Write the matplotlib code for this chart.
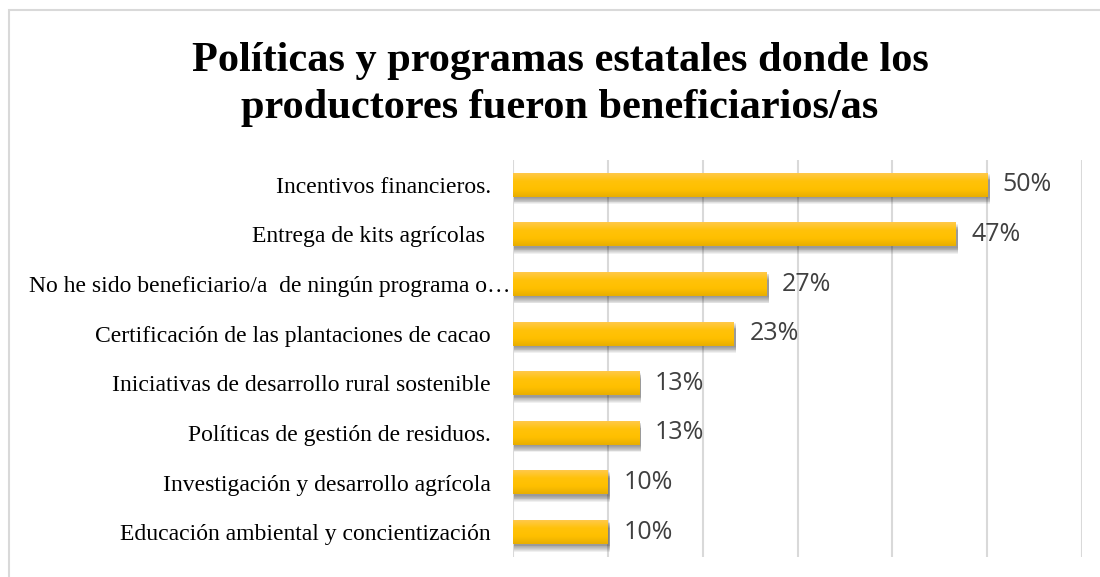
import numpy as np
import matplotlib
matplotlib.use('Agg')
import matplotlib.pyplot as plt
import matplotlib.transforms as mtransforms
from matplotlib.colors import LinearSegmentedColormap
from matplotlib.patches import Rectangle

# Data (shares of producers, n=30)
categories = [
    "Incentivos financieros.",
    "Entrega de kits agrícolas ",
    "No he sido beneficiario/a  de ningún programa o…",
    "Certificación de las plantaciones de cacao",
    "Iniciativas de desarrollo rural sostenible",
    "Políticas de gestión de residuos.",
    "Investigación y desarrollo agrícola",
    "Educación ambiental y concientización",
]
values = [50.0, 46.7, 26.7, 23.3, 13.3, 13.3, 10.0, 10.0]
value_labels = ["50%", "47%", "27%", "23%", "13%", "13%", "10%", "10%"]
xticks = [0, 10, 20, 30, 40, 50, 60]

W, H = 1100, 577
fig = plt.figure(figsize=(W / 100, H / 100), dpi=100)
ax = fig.add_axes([513 / W, 1 - 557 / H, (1082 - 513) / W, (557 - 160) / H])

# outer chart border (right/bottom edges fall outside the picture)
fig.patches.append(Rectangle((8.5 / W, -0.05), 1.2, 1 - 10 / H + 0.05,
                             transform=fig.transFigure, fill=False,
                             edgecolor='#d9d9d9', linewidth=1.5))

ypos = np.arange(len(categories))
bar_h = 0.48
grad = LinearSegmentedColormap.from_list('gold', ['#e8ae00', '#ffc000', '#ffc20a', '#ffc94a'])
gimg = np.linspace(0, 1, 64).reshape(-1, 1)

for y, v in zip(ypos, values):
    # soft drop shadow below the bar
    for k in np.linspace(0.03, 0.15, 8):
        ax.add_patch(Rectangle((0.1, y - bar_h / 2 + k), v + 0.15, bar_h,
                               facecolor='#000000', alpha=0.06, edgecolor='none', zorder=2))
    # gradient bar: lighter on top, darker at the bottom
    ax.imshow(gimg, cmap=grad, aspect='auto', origin='lower',
              extent=(0, v, y + bar_h / 2, y - bar_h / 2), zorder=3,
              interpolation='bicubic')
    ax.text(v + 1.65, y, value_labels[y], va='center', ha='left',
            fontsize=18, color='#404040', family='Open Sans', zorder=4)

ax.set_xlim(0, 60)
ax.set_ylim(len(categories) - 0.5, -0.5)
ax.set_xticks(xticks)
ax.set_xticklabels([])
ax.tick_params(axis='x', length=0)
ax.tick_params(axis='y', length=0, pad=16)
ax.set_yticks(ypos)
ax.set_yticklabels(categories, family='Liberation Serif', fontsize=17, color='#000000')
# the truncated label runs right up to the plot edge
lab = ax.get_yticklabels()[2]
lab.set_transform(lab.get_transform() + mtransforms.ScaledTranslation(0.2, 0, fig.dpi_scale_trans))
ax.grid(axis='x', color='#d9d9d9', linewidth=1.5, zorder=0)
ax.set_axisbelow(True)
for s in ax.spines.values():
    s.set_visible(False)

title_lines = ["Políticas y programas estatales donde los",
               "productores fueron beneficiarios/as"]
for i, line in enumerate(title_lines):
    fig.text(560 / W, 1 - (71 + 46.5 * i) / H, line, ha='center', va='baseline',
             fontsize=30.5, fontweight='bold', family='Liberation Serif')

fig.savefig('out.png', dpi=100)
